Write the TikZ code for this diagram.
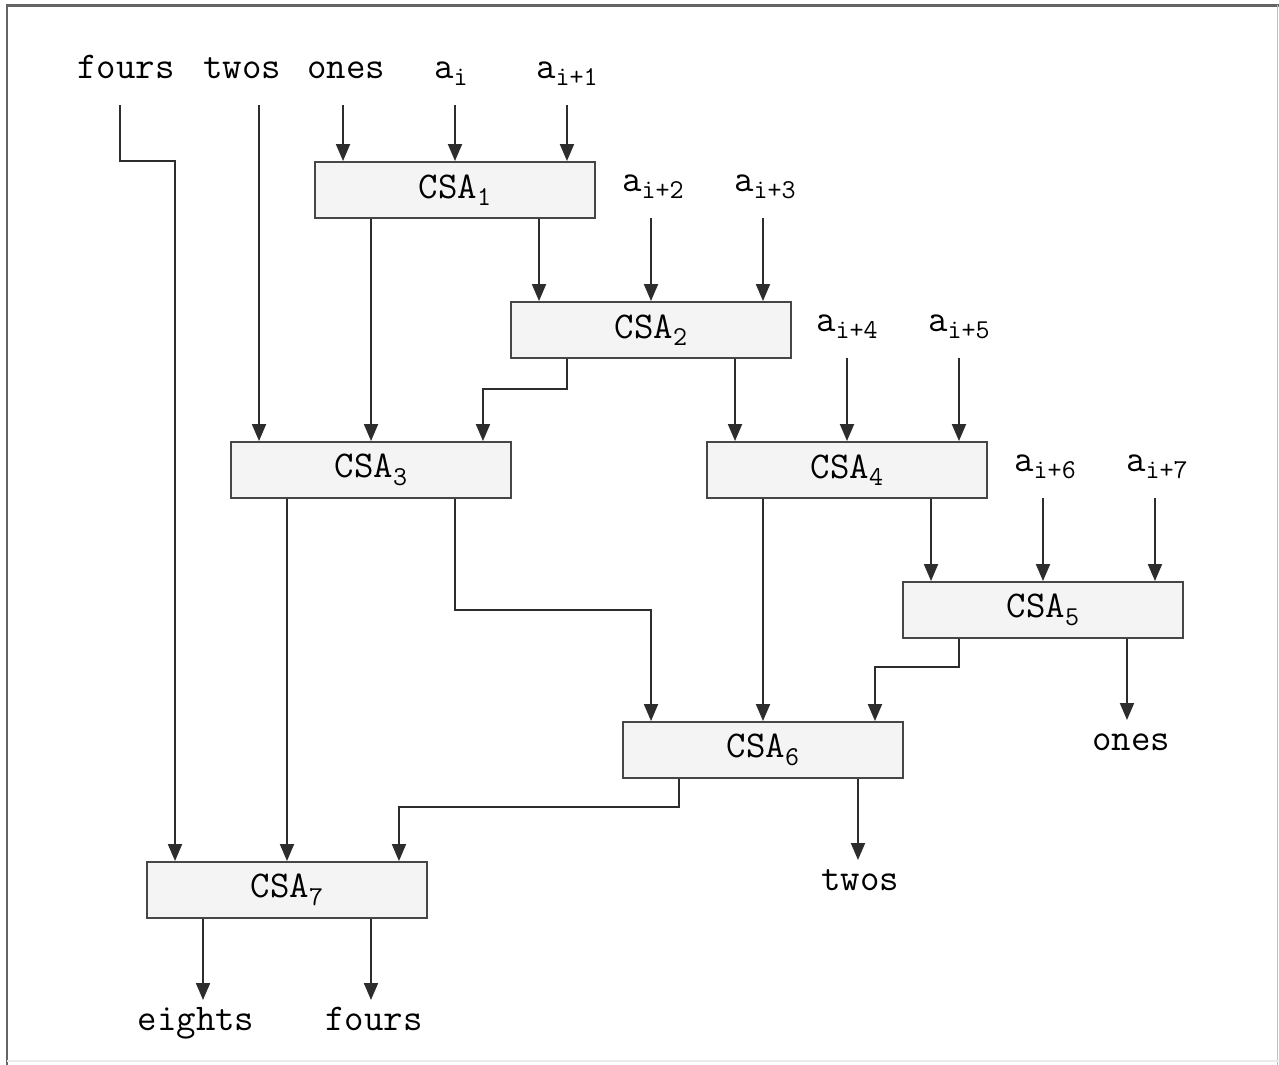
\documentclass[tikz,border=0pt]{standalone}
\usepackage{tikz}
\usetikzlibrary{arrows.meta, calc, positioning}
\definecolor{cWire}{RGB}{45,45,45}
\definecolor{cEdge}{RGB}{70,70,70}
\definecolor{cFill}{RGB}{244,244,244}
\definecolor{cFrame}{RGB}{100,100,100}
\newcommand{\lowsub}[1]{\raisebox{-0.15cm}{\fontsize{15.5}{17}\selectfont #1}}

\begin{document}
\begin{tikzpicture}[x=0.02cm, y=-0.02cm,
    font=\fontsize{21.5}{24}\selectfont\ttfamily,
    wire/.style={draw=cWire, line width=1.1pt},
    ar/.style={wire, -{Triangle[length=0.34cm, width=0.28cm]}},
    csa/.style={draw=cEdge, fill=cFill, line width=1.1pt, minimum width=5.6cm,
      minimum height=1.12cm, inner sep=0pt},
    lbl/.style={anchor=base, inner sep=0pt}]
    \def\pin{2.24cm}   % outer inputs off centre
    \def\pout{1.68cm}  % outputs off centre
    \def\gap{0.54cm}   % label baseline to wire start
    \def\tip{0.6cm}    % wire tip to label baseline

    \useasboundingbox (0,0) rectangle (1279,1065);

    % ---------- frame ----------
    \draw[cFrame, line width=0.06cm] (7,1065) -- (7,5) -- (1279,5);
    \draw[black!25, line width=0.02cm] (1277.5,5) -- (1277.5,1065);
    \draw[black!8, line width=0.04cm] (7,1061) -- (1279,1061);

    % ---------- adders ----------
    \node[csa] (c1) at (455,190) {CSA\lowsub{1}};
    \node[csa] (c2) at (651,330) {CSA\lowsub{2}};
    \node[csa] (c3) at (371,470) {CSA\lowsub{3}};
    \node[csa] (c4) at (847,470) {CSA\lowsub{4}};
    \node[csa] (c5) at (1043,610) {CSA\lowsub{5}};
    \node[csa] (c6) at (763,750) {CSA\lowsub{6}};
    \node[csa] (c7) at (287,890) {CSA\lowsub{7}};

    \foreach \b in {1,...,7} {
      \coordinate (c\b-in1) at ([xshift=-\pin]c\b.north);
      \coordinate (c\b-in3) at ([xshift=\pin]c\b.north);
      \coordinate (c\b-o1) at ([xshift=-\pout]c\b.south);
      \coordinate (c\b-o2) at ([xshift=\pout]c\b.south);
    }
    \coordinate (c6-o2) at ([xshift=1.9cm]c6.south);

    % ---------- inputs ----------
    \node[lbl] (iFours) at (126,78) {fours};
    \node[lbl] (iTwos) at (242,78) {twos};
    \node[lbl] (iOnes) at (346,78) {ones};
    \node[lbl] (a0) at (451,78) {a\lowsub{i}};
    \node[lbl] (a1) at (567,78) {a\lowsub{i+1}};
    \node[lbl] (a2) at (653,191) {a\lowsub{i+2}};
    \node[lbl] (a3) at (765,191) {a\lowsub{i+3}};
    \node[lbl] (a4) at (847,331) {a\lowsub{i+4}};
    \node[lbl] (a5) at (959,331) {a\lowsub{i+5}};
    \node[lbl] (a6) at (1045,471) {a\lowsub{i+6}};
    \node[lbl] (a7) at (1157,471) {a\lowsub{i+7}};

    % ---------- outputs ----------
    \node[lbl] (oOnes) at (1131,750) {ones};
    \node[lbl] (oTwos) at (860,890) {twos};
    \node[lbl] (oEights) at (196,1030) {eights};
    \node[lbl] (oFours) at (374,1030) {fours};

    % ---------- wires into CSA1..CSA2 ----------
    \draw[ar] ([xshift=-0.12cm,yshift=-\gap]iFours.base) |- (c1.north -| c7-in1) -- (c7-in1);
    \draw[ar] ([yshift=-\gap]iTwos.base -| c3-in1) -- (c3-in1);
    \draw[ar] ([yshift=-\gap]iOnes.base -| c1-in1) -- (c1-in1);
    \draw[ar] ([yshift=-\gap]a0.base -| c1) -- (c1.north);
    \draw[ar] ([yshift=-\gap]a1.base -| c1-in3) -- (c1-in3);
    \draw[ar] (c1-o1) -- (c1-o1 |- c3.north);
    \draw[ar] (c1-o2) -- (c2-in1);
    \draw[ar] ([yshift=-\gap]a2.base -| c2) -- (c2.north);
    \draw[ar] ([yshift=-\gap]a3.base -| c2-in3) -- (c2-in3);

    % ---------- CSA2..CSA5 ----------
    \draw[ar] (c2-o1) -- ++(0,30) -| (c3-in3);
    \draw[ar] (c2-o2) -- (c4-in1);
    \draw[ar] ([yshift=-\gap]a4.base -| c4) -- (c4.north);
    \draw[ar] ([yshift=-\gap]a5.base -| c4-in3) -- (c4-in3);
    \draw[ar] (c4-o2) -- (c5-in1);
    \draw[ar] ([yshift=-\gap]a6.base -| c5) -- (c5.north);
    \draw[ar] ([yshift=-\gap]a7.base -| c5-in3) -- (c5-in3);

    % ---------- CSA6, CSA7 ----------
    \draw[ar] (c3-o2) |- (c6-in1 |- c5) -- (c6-in1);
    \draw[ar] (c4-o1) -- (c6.north);
    \draw[ar] (c5-o1) -- ++(0,28) -| (c6-in3);
    \draw[ar] (c3-o1) -- (c7.north);
    \draw[ar] (c6-o1) -- ++(0,28) -| (c7-in3);

    % ---------- results ----------
    \draw[ar] (c5-o2) -- ([yshift=\tip]oOnes.base -| c5-o2);
    \draw[ar] (c6-o2) -- ([yshift=\tip]oTwos.base -| c6-o2);
    \draw[ar] (c7-o1) -- ([yshift=\tip]oEights.base -| c7-o1);
    \draw[ar] (c7-o2) -- ([yshift=\tip]oFours.base -| c7-o2);
\end{tikzpicture}
\end{document}
